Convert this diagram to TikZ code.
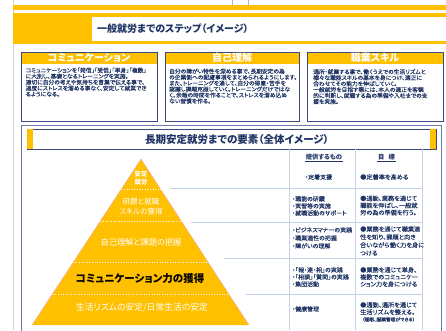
\documentclass[tikz,border=0pt]{standalone}
\usepackage{fontspec}
\setmainfont{Noto Sans CJK JP}[RawFeature=+palt]
\newfontfamily\bodyfont{Noto Sans CJK JP}[RawFeature=+palt, FakeStretch=1.03, FakeBold=0.15]
\definecolor{gold}{HTML}{FFC000}
\definecolor{navy}{HTML}{1F3464}
\definecolor{boxline}{HTML}{3A4A80}
\definecolor{tline}{HTML}{C3D1E6}
\definecolor{outerline}{HTML}{6A79A8}
\definecolor{pinkline}{HTML}{F4B0C0}
\newcommand{\fsz}[2]{\fontsize{#1}{#2}\selectfont}
\begin{document}
\begin{tikzpicture}[x=1pt,y=-1pt,
  boxtext/.style={anchor=north west, inner sep=0pt, align=left, text=navy, font=\bodyfont\fsz{5.6}{5.95}},
  headtext/.style={text=white, font=\fsz{10}{11}\bfseries, inner sep=0pt},
  celltext/.style={anchor=west, inner sep=0pt, align=left, text=navy, font=\bodyfont\fsz{5.8}{7.1}},
  goaltext/.style={anchor=west, inner sep=0pt, align=left, text=navy, font=\bodyfont\fsz{6}{7.1}},
  pyrw/.style={text=white, inner sep=0pt, align=center},
  rowline/.style={draw=tline, line width=0.6pt},
  sep/.style={draw=white, dotted, line width=0.6pt},
  framebox/.style={draw=boxline, line width=0.6pt}
]
\useasboundingbox (0,0) rectangle (446,330);
% page margin line and top ticks
\draw[gray!35, line width=0.8pt] (13,0) -- (13,330);
\draw[gray!60] (232,0) -- (232,5);
\draw[gray!60] (248,0) -- (248,5);
% top title band
\fill[gold] (13,5) rectangle (446,10);
\fill[gold] (13,13) rectangle (446,44);
\fill[white] (92,17) rectangle (446,41);
\node[anchor=west, text=navy, font=\fsz{10}{11}\bfseries, inner sep=0pt] (title1) at (97,29) {一般就労までのステップ（イメージ）};
% box 1
\fill[gold] (21,52) rectangle (157,64);
\draw[framebox] (21,52) rectangle (157,121);
\node[headtext] (h1) at (89,58) {コミュニケーション};
\node[boxtext] (b1) at (25.5,67.5) {コミュニケーションを「発信」「受信」「単身」「複数」\\に大別し、基礎となるトレーニングを実施。\\適切に自分の考えや気持ちを言葉で伝える事で、\\過度にストレスを溜める事なく、安定して就業でき\\るようになる。};
% box 2
\fill[gold] (165,52) rectangle (299,64);
\draw[framebox] (165,52) rectangle (299,121);
\node[headtext] (h2) at (232,58) {自己理解};
\node[boxtext] (b2) at (169,68.5) {自分の障がい特性を深める事で、長期安定の為\\の企業側への配慮事項をまとめられるようにします。\\また、トレーニングを通して、自分の得意・苦手を\\認識し課題克服していく。トレーニングだけではな\\く、余暇の時間を作ることで、ストレスを溜め込め\\ない習慣を作る。};
% box 3
\fill[gold] (307,52) rectangle (443,64);
\draw[framebox] (307,52) rectangle (443,121);
\node[headtext] (h3) at (375,58) {職業スキル};
\node[boxtext] (b3) at (313,69) {通所・就業する事で、働くうえでの生活リズムと\\様々な職能スキルの基本を身につけ、適正に\\合わせてその能力を伸ばしていく。\\一般就労を目指す際には、本人の適正を客観\\的に判断し、就職する為の準備や入社までの支\\援を実施。};
% section 2 frame
\draw[outerline, line width=0.9pt] (21,340) -- (21,125) -- (441,125) -- (441,340);
\draw[framebox, fill=white] (27,129) rectangle (436,149);
\fill[gold] (27.4,129.4) rectangle (33,148.6);
\fill[gold] (430,129.4) rectangle (435.6,148.6);
\node[text=navy, font=\fsz{10.5}{12}\bfseries, inner sep=0pt] (title2) at (237,139.5) {長期安定就労までの要素（全体イメージ）};
% table columns
\draw[tline, line width=0.6pt] (289,149) -- (289,330);
\draw[tline, line width=0.6pt] (355,149) -- (355,330);
\draw[tline, line width=0.6pt] (422,149) -- (422,330);
\node[text=navy, font=\fsz{6.3}{7}\bfseries, inner sep=0.6pt] (c1) at (324,157.5) {提供するもの};
\node[text=navy, font=\fsz{6.3}{7}\bfseries, inner sep=0.6pt] (c2) at (386.5,157.5) {目\hspace{0.7em}標};
\draw[navy, line width=0.4pt] (c1.south west) -- (c1.south east);
\draw[navy, line width=0.4pt] (c2.south west) -- (c2.south east);
% pyramid
\coordinate (apex) at (141,159);
\coordinate (bl) at (32,325);
\coordinate (br) at (249,325);
\fill[gold] (apex) -- (bl) -- (br) -- cycle;
\draw[pinkline, line width=0.5pt] (bl) -- (apex) -- (br);
\coordinate (s1a) at (121.4,189.5); \coordinate (s1b) at (160.6,189.5);
\coordinate (s2a) at (100.5,221);   \coordinate (s2b) at (181.5,221);
\coordinate (s3a) at (73.7,262);    \coordinate (s3b) at (208.3,262);
\coordinate (s4a) at (52.8,294);    \coordinate (s4b) at (229.2,294);
\draw[sep] (s1a) -- (s1b);
\draw[sep] (s2a) -- (s2b);
\draw[sep] (s3a) -- (s3b);
\draw[sep] (s4a) -- (s4b);
\node[pyrw, font=\fsz{6.3}{8}\bfseries] (p1) at (141,178) {安定\\就労};
\node[pyrw, font=\fsz{7.5}{10}] (p2) at (141,207) {研鑽と就職\\スキルの獲得};
\node[pyrw, font=\fsz{8.2}{10}] (p3) at (141,242) {自己理解と課題の把握};
\node[inner sep=0pt, text=black, font=\fsz{10.5}{12}\bfseries] (p4) at (140,279) {コミュニケーション力の獲得};
\node[pyrw, font=\fsz{8.8}{10}] (p5) at (142,308) {生活リズムの安定/日常生活の安定};
% row lines
\coordinate (l1a) at (170,188.5); \coordinate (l1b) at (422,188.5);
\coordinate (l2a) at (191,222.5); \coordinate (l2b) at (422,222.5);
\coordinate (l3a) at (224,258);   \coordinate (l3b) at (422,258);
\coordinate (l4a) at (246,294);   \coordinate (l4b) at (422,294);
\draw[rowline] (l1a) -- (l1b);
\draw[rowline] (l2a) -- (l2b);
\draw[rowline] (l3a) -- (l3b);
\draw[rowline] (l4a) -- (l4b);
% table cells
\node[celltext] (r1a) at (305,177) {・定着支援};
\node[goaltext] (r1b) at (360,177) {●定着率を高める};
\node[celltext] (r2a) at (292,206) {・職能の研鑽\\・実習等の実施\\・就職活動のサポート};
\node[goaltext] (r2b) at (360,205.5) {●通勤、業務を通じて\\職能を伸ばし、一般就\\労の為の準備を行う。};
\node[celltext, font=\bodyfont\fsz{5.8}{8}] (r3a) at (292,238) {・ビジネスマナーの実践\\・職業適性の把握\\・障がいの理解};
\node[goaltext, font=\bodyfont\fsz{6}{8}] (r3b) at (360,241) {●業務を通じて職業適\\性を知り、課題と向き\\合いながら働く力を身に\\つける};
\node[celltext] (r4a) at (292,277) {・「報・連・相」の実践\\・「相談」「質問」の実践\\・集団活動};
\node[goaltext] (r4b) at (360,277) {●業務を通じて単身、\\複数でのコミュニケー\\ション力を身につける};
\node[celltext] (r5a) at (292,309) {・健康管理};
\node[goaltext] (r5b) at (360,308.5) {●通勤、通所を通じて\\生活リズムを整える。};
\node[goaltext, font=\bodyfont\fsz{4.6}{5}] (r5c) at (362,319.5) {（睡眠、服薬管理ができる）};
\end{tikzpicture}
\end{document}
